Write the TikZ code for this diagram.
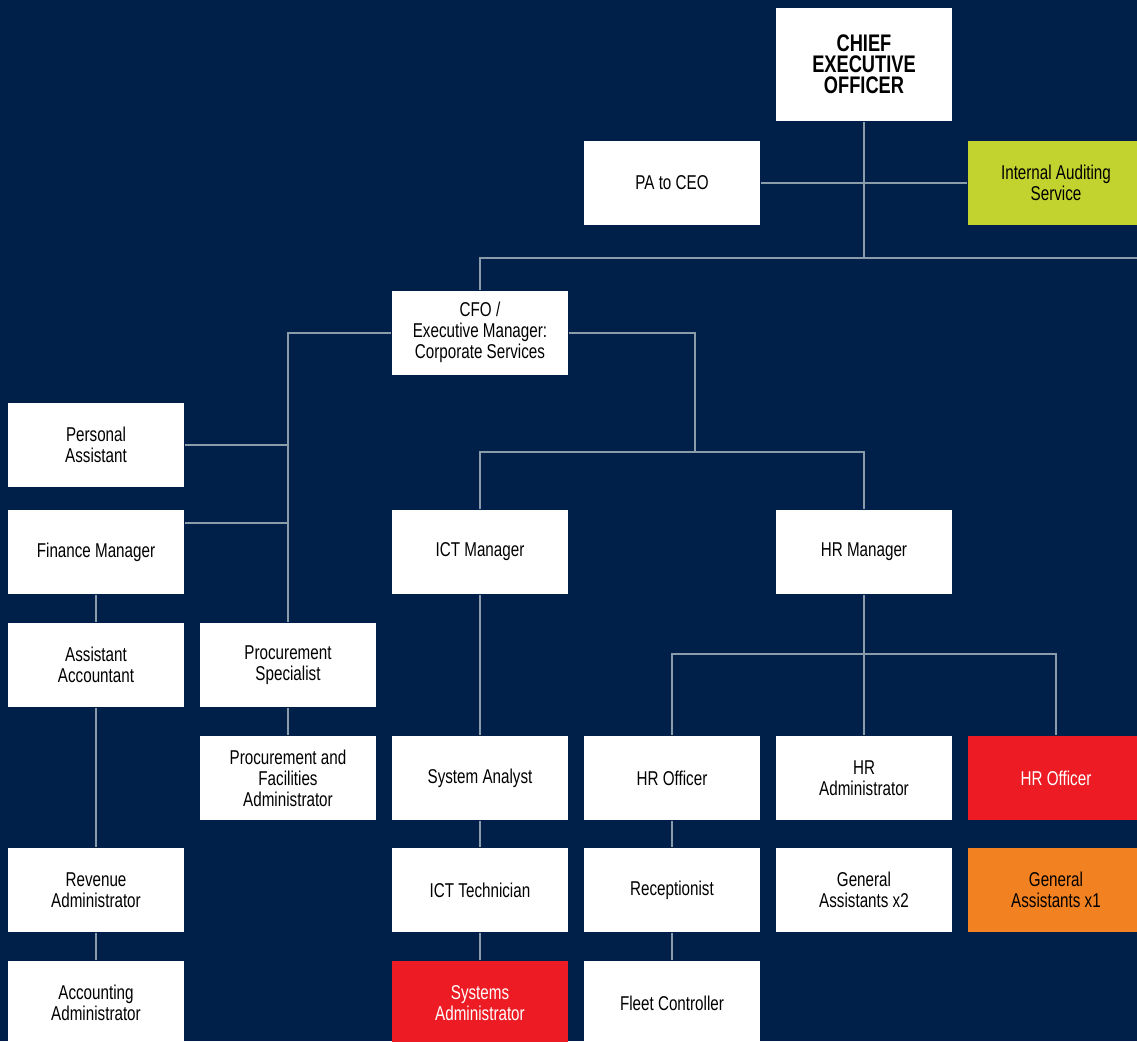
\documentclass[tikz,border=0pt]{standalone}
\usepackage{fontspec}
\setmainfont{Liberation Sans}[FakeStretch=0.76]
\definecolor{navy}{HTML}{00204A}
\definecolor{linegray}{HTML}{8A9BAA}
\definecolor{lime}{HTML}{C2D32F}
\definecolor{alertred}{HTML}{ED1C24}
\definecolor{amber}{HTML}{F28121}
\tikzset{
every picture/.style={
line width=1pt
}}

\begin{document}
\begin{tikzpicture}[x=0.5pt, y=-0.5pt,
block/.style = {rectangle, fill=white, text=black, minimum width=88pt, minimum height=42pt,
inner sep=0pt, align=center, font=\fontsize{10}{10.5}\selectfont},
link/.style = {draw=linegray}]
\clip (0,0) rectangle (1137,1041);
\fill[navy] (0,0) rectangle (1137,1041);

% top
\node[block, minimum height=56.5pt, font=\bfseries\fontsize{12}{10.5}\selectfont] at (864,64.5) (ceo) {CHIEF\\EXECUTIVE\\OFFICER};
\node[block] at (672,183) (pa) {PA to CEO};
\node[block, fill=lime] at (1056,183) (ias) {Internal Auditing\\Service};
\node[block] at (480,332.5) (cfo) {CFO /\\Executive Manager:\\Corporate Services};
\coordinate (bar) at (864,258);
\coordinate (edge) at (1137,258);

% corporate services, left side
\node[block] at (96,445) (pers) {Personal\\Assistant};
\node[block] at (96,552) (fm) {Finance Manager};
\node[block] at (96,665) (aa) {Assistant\\Accountant};
\node[block] at (288,665) (ps) {Procurement\\Specialist};
\node[block] at (288,778) (pfa) {Procurement and\\Facilities\\Administrator};
\node[block] at (96,890) (ra) {Revenue\\Administrator};
\node[block] at (96,1003) (acca) {Accounting\\Administrator};

% ICT
\node[block] at (480,552) (ict) {ICT Manager};
\node[block] at (480,778) (sa) {System Analyst};
\node[block] at (480,890) (ictt) {ICT Technician};
\node[block, fill=alertred, text=white] at (480,1003) (sysa) {Systems\\Administrator};
\coordinate (split) at (695,452);

% HR
\node[block] at (864,552) (hr) {HR Manager};
\node[block] at (672,778) (hro) {HR Officer};
\node[block] at (864,778) (hra) {HR\\Administrator};
\node[block, fill=alertred, text=white] at (1056,778) (hro2) {HR Officer};
\node[block] at (672,890) (rec) {Receptionist};
\node[block] at (864,890) (ga2) {General\\Assistants x2};
\node[block, fill=amber] at (1056,890) (ga1) {General\\Assistants x1};
\node[block] at (672,1003) (fc) {Fleet Controller};
\coordinate (hrsplit) at (864,654);

\draw[link] (ceo) -- (bar);
\draw[link] (pa) -- (ias);
\draw[link] (cfo.north) |- (edge);
\draw[link] (cfo.west) -| (ps.north);
\draw[link] (pers.east) -- (pers.east -| ps.north);
\draw[link] ([yshift=-7pt]fm.north east) coordinate (fmj) -- (fmj -| ps.north);
\draw[link] (fm) -- (aa) -- (ra) -- (acca);
\draw[link] (ps) -- (pfa);
\draw[link] (cfo.east) -| (split);
\draw[link] (ict.north) |- (split) -| (hr.north);
\draw[link] (ict) -- (sa) -- (ictt) -- (sysa);
\draw[link] (hr) -- (hrsplit) -- (hra);
\draw[link] (hro.north) |- (hrsplit) -| (hro2.north);
\draw[link] (hro) -- (rec) -- (fc);

\end{tikzpicture}
\end{document}
